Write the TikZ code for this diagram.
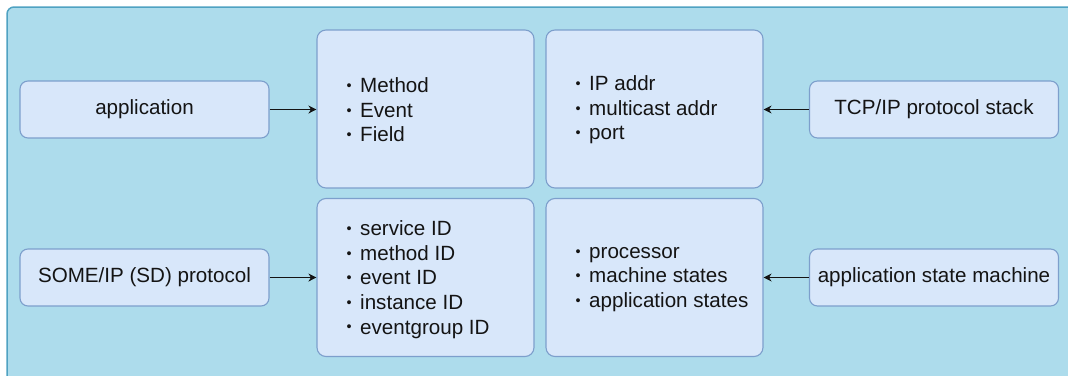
\documentclass[tikz,border=0pt]{standalone}
\usepackage{fontspec}
\setmainfont{Liberation Sans}
\usetikzlibrary{arrows.meta}
\definecolor{panelfill}{HTML}{ADDCEC}
\definecolor{paneledge}{HTML}{4FA2C2}
\definecolor{boxfill}{HTML}{D8E7FA}
\definecolor{boxedge}{HTML}{7D9FCC}
\definecolor{ink}{HTML}{141414}
\newcommand{\itemdot}{\raisebox{0.2ex}{\scalebox{0.7}{\textbullet}}}
\newcommand{\itemrow}[1]{\itemdot\hspace{8.5pt}#1}
\tikzset{
  panel/.style={fill=panelfill, draw=paneledge, line width=1.5pt, rounded corners=7pt},
  srcbox/.style={fill=boxfill, draw=boxedge, line width=1.1pt, rounded corners=8pt,
    minimum width=249pt, minimum height=57pt, inner sep=0pt, font=\fontsize{20.6}{24}\selectfont, text=ink},
  infobox/.style={fill=boxfill, draw=boxedge, line width=1.1pt, rounded corners=9pt,
    minimum width=217pt, minimum height=158pt, inner sep=0pt},
  itemlist/.style={anchor=west, inner sep=0pt, align=left, text=ink,
    font=\fontsize{20.6}{24.6}\selectfont},
  feed/.style={draw=ink, line width=1pt, -{Stealth[length=8pt,width=8pt,inset=2.5pt]}}
}
\begin{document}
\begin{tikzpicture}[x=1pt,y=-1pt]
\useasboundingbox (0,0) rectangle (1068,375);
\begin{scope}
\clip (0,0) rectangle (1068,375);
\draw[panel] (7,7) rectangle (1090,390);
\end{scope}

% sources on the left and right
\node[srcbox] (app)  at (144.5,109.5) {application};
\node[srcbox] (sd)   at (144.5,277.5) {SOME/IP (SD) protocol};
\node[srcbox] (tcp)  at (934,109.5)  {TCP/IP protocol stack};
\node[srcbox] (asm)  at (934,277.5)  {application state machine};

% central information boxes
\node[infobox] (comm) at (425.5,109)   {};
\node[infobox] (net)  at (654.5,109)   {};
\node[infobox] (ids)  at (425.5,277.5) {};
\node[infobox] (plat) at (654.5,277.5) {};

\node[itemlist] (commlist) at ([xshift=30pt,yshift=-1pt]comm.west)
  {\itemrow{Method}\\ \itemrow{Event}\\ \itemrow{Field}};
\node[itemlist] (netlist) at ([xshift=30pt,yshift=-1pt]net.west)
  {\itemrow{IP addr}\\ \itemrow{multicast addr}\\ \itemrow{port}};
\node[itemlist] (idslist) at ([xshift=30pt,yshift=-2pt]ids.west)
  {\itemrow{service ID}\\ \itemrow{method ID}\\ \itemrow{event ID}\\ \itemrow{instance ID}\\ \itemrow{eventgroup ID}};
\node[itemlist] (platlist) at ([xshift=30pt,yshift=-2pt]plat.west)
  {\itemrow{processor}\\ \itemrow{machine states}\\ \itemrow{application states}};

% connectors
\draw[feed] (app.east) -- (comm.west |- app.east);
\draw[feed] (sd.east)  -- (ids.west |- sd.east);
\draw[feed] (tcp.west) -- (net.east |- tcp.west);
\draw[feed] (asm.west) -- (plat.east |- asm.west);
\end{tikzpicture}
\end{document}
